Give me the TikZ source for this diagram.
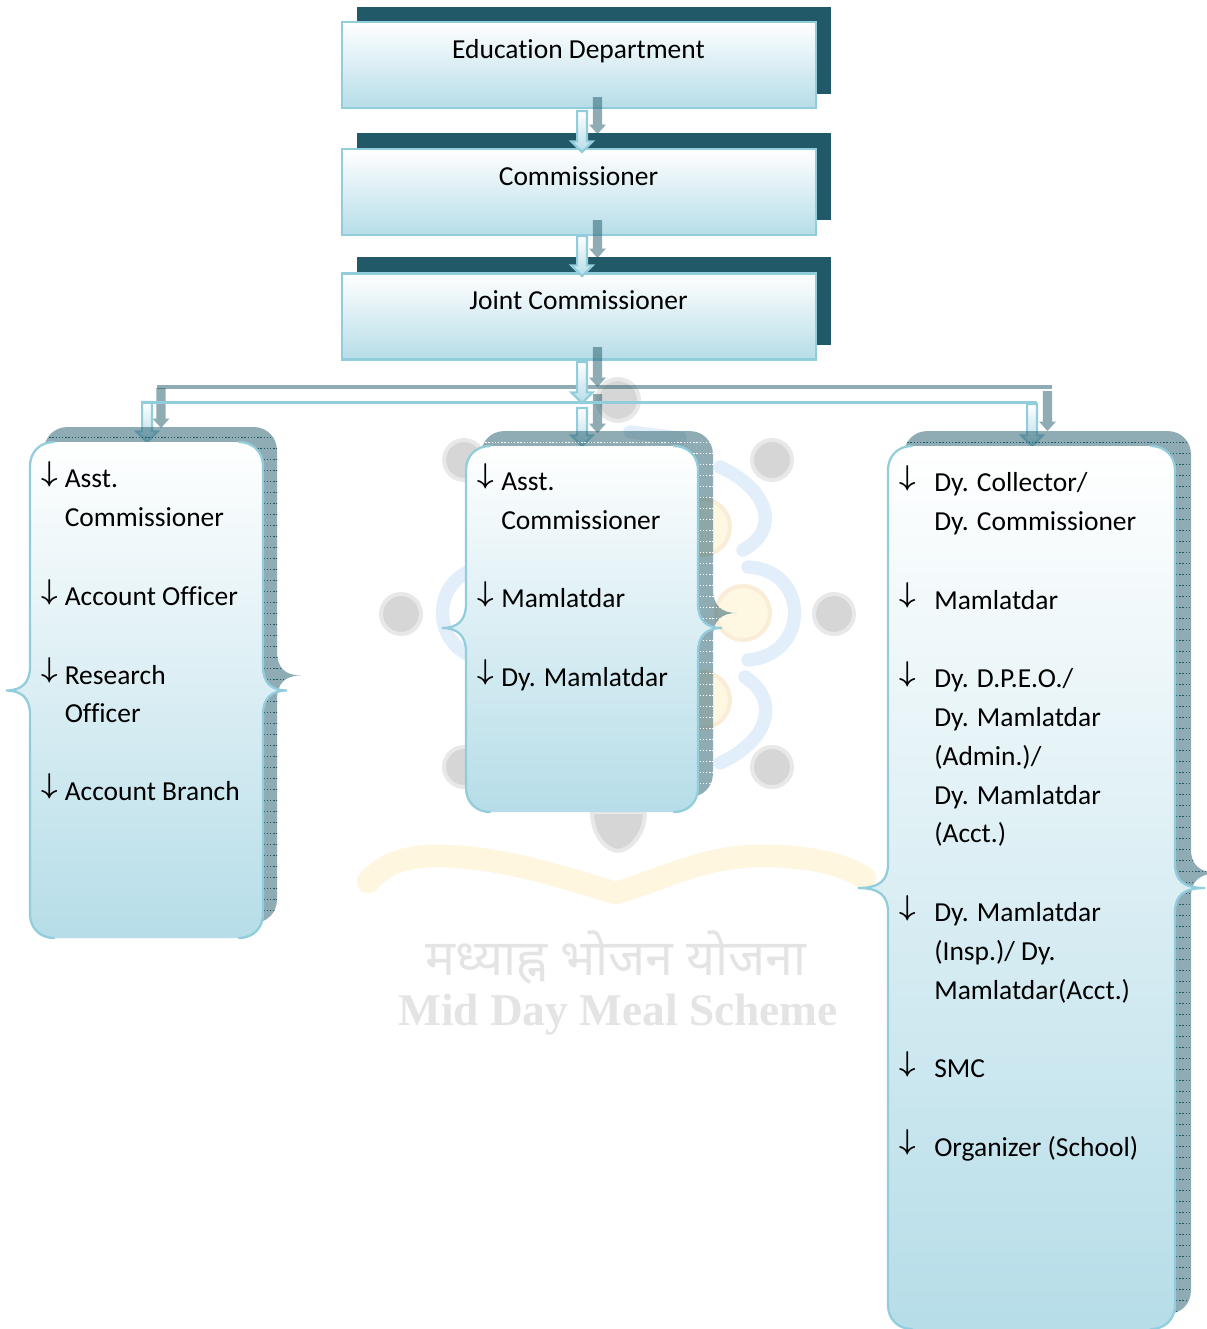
\documentclass[tikz,border=0pt]{standalone}
\usepackage{fontspec}
\usepackage{graphicx}
\setmainfont[Ligatures=NoCommon]{Carlito}
\newfontfamily\wmserif{Liberation Serif}
\newfontfamily\wmhindi[Script=Devanagari]{Noto Sans}
\usetikzlibrary{calc}
\definecolor{boxline}{HTML}{92CDDC}
\definecolor{boxbottom}{HTML}{B6DDE8}
\definecolor{darkteal}{HTML}{215968}
\definecolor{wmgray}{HTML}{D6D6D6}
\definecolor{wmgrayedge}{HTML}{E8E8E8}
\definecolor{wmtext}{HTML}{E4E4E4}
\definecolor{wmblue}{HTML}{E2EEFA}
\definecolor{wmring}{HTML}{FAEDD8}
\definecolor{wmsun}{HTML}{FEF7E2}
\definecolor{wmbook}{HTML}{FEF6DF}
\tikzset{
  x=0.75pt,y=-0.75pt,
  topbox/.style={rectangle,minimum width=355.5pt,minimum height=64.5pt,inner sep=0pt,draw=boxline,line width=1.9pt,top color=white,bottom color=boxbottom,shading angle=0},
  topshadow/.style={fill=darkteal},
  toptext/.style={font=\fontsize{20.6}{24}\selectfont,inner sep=0pt,anchor=base,text=black},
  lab/.style={font=\fontsize{20.6}{24}\selectfont,inner sep=0pt,anchor=base west,text=black,yshift=-0.4pt},
  arr/.style={inner sep=0pt,anchor=south,text=black},
  lightarrow/.style={draw=boxline,line width=1.6pt,top color=white,bottom color=boxbottom},
  darkarrow/.style={fill=darkteal,fill opacity=0.5},
  panelfill/.style={top color=white,bottom color=boxbottom},
  panelline/.style={draw=boxline,line width=1.7pt,line cap=round},
  panelshadow/.style={fill=darkteal,fill opacity=0.5},
  lightline/.style={draw=boxline,line width=1.9pt},
  darkline/.style={draw=darkteal,draw opacity=0.5,line width=2.6pt},
  wmdot/.style={fill=wmgray,draw=wmgrayedge,line width=3pt},
  wmarc/.style={draw=wmblue,line width=10pt,line cap=round},
  wmsunstyle/.style={draw=wmring,fill=wmsun,line width=3pt},
}
% #1 left, #2 right, #3 top, #4 bottom, #5 brace y, #6 brace reach
\newcommand{\panelclosed}[6]{({#1+24},#3) -- ({#2-24},#3)
  .. controls ({#2-10},#3) and (#2,{#3+10}) .. (#2,{#3+24}) -- (#2,{#5-24})
  .. controls (#2,{#5-8}) and ({#2+8},#5) .. ({#2+#6},#5)
  .. controls ({#2+8},#5) and (#2,{#5+8}) .. (#2,{#5+24}) -- (#2,{#4-24})
  .. controls (#2,{#4-10}) and ({#2-10},#4) .. ({#2-24},#4) -- ({#1+24},#4)
  .. controls ({#1+10},#4) and (#1,{#4-10}) .. (#1,{#4-24}) -- (#1,{#5+24})
  .. controls (#1,{#5+8}) and ({#1-8},#5) .. ({#1-#6},#5)
  .. controls ({#1-8},#5) and (#1,{#5-8}) .. (#1,{#5-24}) -- (#1,{#3+24})
  .. controls (#1,{#3+10}) and ({#1+10},#3) .. ({#1+24},#3) -- cycle}
\newcommand{\panelshadowpath}[6]{({#1+24},#3) -- ({#2-24},#3)
  .. controls ({#2-10},#3) and (#2,{#3+10}) .. (#2,{#3+24}) -- (#2,{#5-24})
  .. controls (#2,{#5-8}) and ({#2+8},#5) .. ({#2+#6},#5)
  .. controls ({#2+8},#5) and (#2,{#5+8}) .. (#2,{#5+24}) -- (#2,{#4-24})
  .. controls (#2,{#4-10}) and ({#2-10},#4) .. ({#2-24},#4) -- ({#1+24},#4) -- (#1,{#4-24}) -- (#1,{#3+24})
  .. controls (#1,{#3+10}) and ({#1+10},#3) .. ({#1+24},#3) -- cycle}
\newcommand{\panelstroke}[6]{
  \draw[panelline] ({#2-24},#3)
  .. controls ({#2-10},#3) and (#2,{#3+10}) .. (#2,{#3+24}) -- (#2,{#5-24})
  .. controls (#2,{#5-8}) and ({#2+8},#5) .. ({#2+#6},#5)
  .. controls ({#2+8},#5) and (#2,{#5+8}) .. (#2,{#5+24}) -- (#2,{#4-24})
  .. controls (#2,{#4-10}) and ({#2-10},#4) .. ({#2-24},#4);
  \draw[panelline] ({#1+24},#4)
  .. controls ({#1+10},#4) and (#1,{#4-10}) .. (#1,{#4-24}) -- (#1,{#5+24})
  .. controls (#1,{#5+8}) and ({#1-8},#5) .. ({#1-#6},#5)
  .. controls ({#1-8},#5) and (#1,{#5-8}) .. (#1,{#5-24}) -- (#1,{#3+24})
  .. controls (#1,{#3+10}) and ({#1+10},#3) .. ({#1+24},#3);
}
% full panel: #1..#6 as above, #7 dotted start, #8 dotted style, #9 shadow x offset
\newcommand{\fullpanel}[9]{
  \pgfmathsetmacro{\shL}{#1+#9}
  \pgfmathsetmacro{\shR}{#2+#9}
  \pgfmathsetmacro{\shT}{#3-15}
  \pgfmathsetmacro{\shB}{#4-15}
  \pgfmathsetmacro{\shY}{#5-15}
  \fill[panelshadow] \panelshadowpath{\shL}{\shR}{\shT}{\shB}{\shY}{#6};
  \begin{scope}
    \clip \panelshadowpath{\shL}{\shR}{\shT}{\shB}{\shY}{#6};
    \pgfmathsetmacro{\dotnext}{#7+11}
    \foreach \dy in {#7,\dotnext,...,#4}
      \draw[#8,line width=0.45pt,dash pattern=on 1.1pt off 1.3pt] (#1,\dy) -- ({#2+45},\dy);
  \end{scope}
  \shade[panelfill] \panelclosed{#1}{#2}{#3}{#4}{#5}{#6};
  \panelstroke{#1}{#2}{#3}{#4}{#5}{#6}
}
% vertical block arrow: style, from, to, half shaft, half head, head length (pt)
\newcommand{\blockdown}[6]{
  \path[#1] let \p1=(#2),\p2=(#3) in
    (\x1-#4,\y1) -- (\x1-#4,\y2+#6) -- (\x1-#5,\y2+#6) -- (\x2,\y2)
    -- (\x1+#5,\y2+#6) -- (\x1+#4,\y2+#6) -- (\x1+#4,\y1) -- cycle;
}
\newcommand{\lightdown}[2]{\blockdown{lightarrow}{#1}{#2}{3.7pt}{8pt}{8pt}}
\newcommand{\darkdown}[2]{\blockdown{darkarrow}{#1}{#2}{3.5pt}{6.3pt}{7pt}}
\newcommand{\downglyph}{\scalebox{2.15}{\boldmath$\downarrow$}}
\begin{document}
\begin{tikzpicture}
\useasboundingbox (0,0) rectangle (1207,1329);
\fill[white] (0,0) rectangle (1207,1329);

% --- watermark ---
\draw[draw=wmbook,line width=17pt,line join=round,line cap=round] (368,882) .. controls (385,862) and (410,855) .. (443,856)
  .. controls (510,858) and (570,880) .. (616,893) .. controls (660,880) and (700,858) .. (754,856)
  .. controls (800,855) and (840,862) .. (865,878);
\fill[wmdot] (618,400) circle (21);
\fill[wmdot] (772,460) circle (20);
\fill[wmdot] (834,614) circle (20);
\fill[wmdot] (772,767) circle (20);
\fill[wmdot] (464,460) circle (20);
\fill[wmdot] (401,614) circle (20);
\fill[wmdot] (464,767) circle (20);
\fill[wmdot] (592,812) -- (645,812) .. controls (645,835) and (630,850) .. (618,851) .. controls (606,850) and (592,835) .. (592,812) -- cycle;
\draw[wmarc] (720,467) .. controls (770,490) and (780,530) .. (743,550);
\draw[wmarc] (748,567) .. controls (810,570) and (810,655) .. (748,660);
\draw[wmarc] (720,763) .. controls (770,740) and (780,700) .. (745,677);
\draw[wmarc] (489,567) .. controls (427,570) and (427,655) .. (489,660);
\draw[wmarc] (630,432) -- (680,438);
\draw[wmsunstyle] (743,613) circle (27);
\draw[wmsunstyle] (702,527) circle (28);
\draw[wmsunstyle] (702,700) circle (28);
\node[inner sep=0pt,anchor=base,text=wmtext,font=\wmhindi\bfseries\fontsize{37.5}{40}\selectfont] (wmhi) at (616,975) {मध्याह्न भोजन योजना};
\node[inner sep=0pt,anchor=base,text=wmtext,font=\wmserif\bfseries\fontsize{34}{38}\selectfont] (wmen) at (618,1025) {Mid Day Meal Scheme};

% --- top boxes ---
\fill[topshadow] (357,7) rectangle (831,94);
\fill[topshadow] (357,133) rectangle (831,220);
\fill[topshadow] (357,257) rectangle (831,345);
\node[topbox] (edu) at (579,65) {};
\node[topbox] (comm) at (579,192) {};
\node[topbox] (joint) at (579,316.5) {};
\node[toptext] (edutext) at (578.5,58) {Education Department};
\node[toptext] (commtext) at (578.5,185) {Commissioner};
\node[toptext] (jointtext) at (578.5,309) {Joint Commissioner};

% --- connector end points ---
\coordinate (a1d) at (597.5,97);  \coordinate (a1e) at (597.5,134);
\coordinate (a1l) at (582,111);   \coordinate (a1m) at (582,152);
\coordinate (a2d) at (597.5,220); \coordinate (a2e) at (597.5,258);
\coordinate (a2l) at (582,236);   \coordinate (a2m) at (582,276);
\coordinate (a3d) at (597.5,347); \coordinate (a3e) at (597.5,387);
\coordinate (a3l) at (582,362);   \coordinate (a3m) at (582,403);
\coordinate (cd) at (597.5,394);  \coordinate (ce) at (597.5,433);
\coordinate (cl) at (582,408);    \coordinate (cm) at (582,446);
\coordinate (ld) at (161,388);    \coordinate (le) at (161,428);
\coordinate (ll) at (147,402);    \coordinate (lm) at (147,442);
\coordinate (rd) at (1047.5,391); \coordinate (re) at (1047.5,431);
\coordinate (rl) at (1032,404);   \coordinate (rm) at (1032,446);
\coordinate (hd1) at (157,387);   \coordinate (hd2) at (1052,387);
\coordinate (hl1) at (141,402.5); \coordinate (hl2) at (1037,402.5);

% --- connectors ---
\draw[darkline] (hd1) -- (hd2);
\darkdown{a1d}{a1e}
\lightdown{a1l}{a1m}
\darkdown{a2d}{a2e}
\lightdown{a2l}{a2m}
\darkdown{a3d}{a3e}
\darkdown{cd}{ce}
\darkdown{ld}{le}
\darkdown{rd}{re}
\lightdown{ll}{lm}
\lightdown{cl}{cm}
\lightdown{rl}{rm}
\draw[lightline] (hl1) -- (hl2);
\lightdown{a3l}{a3m}

% --- panels ---
\fullpanel{30}{263}{442}{938}{690.5}{24}{437}{darkteal}{14}
\fullpanel{466}{698}{446}{812}{628}{24}{442}{white}{15}
\fullpanel{888}{1175}{446}{1329}{888}{30}{442}{darkteal}{16}

% --- left panel text ---
\node[arr] (lg1) at (50,487) {\downglyph};
\node[lab] (lt1) at (64.5,487) {Asst.};
\node[lab] (lt2) at (64.5,525.5) {Commissioner};
\node[arr] (lg2) at (50,605) {\downglyph};
\node[lab] (lt3) at (64.5,605) {Account Officer};
\node[arr] (lg3) at (50,683.5) {\downglyph};
\node[lab] (lt4) at (64.5,683.5) {Research};
\node[lab] (lt5) at (64.5,722) {Officer};
\node[arr] (lg4) at (50,799.5) {\downglyph};
\node[lab] (lt6) at (64.5,799.5) {Account Branch};

% --- centre panel text ---
\node[arr] (cg1) at (486,489.5) {\downglyph};
\node[lab] (ct1) at (501,489.5) {Asst.};
\node[lab] (ct2) at (501,528.5) {Commissioner};
\node[arr] (cg2) at (486,607) {\downglyph};
\node[lab] (ct3) at (501,607) {Mamlatdar};
\node[arr] (cg3) at (486,685.5) {\downglyph};
\node[lab] (ct4) at (501,685.5) {Dy. Mamlatdar};

% --- right panel text ---
\node[arr] (rg1) at (908,491) {\downglyph};
\node[lab] (rt1) at (934,491) {Dy. Collector/};
\node[lab] (rt2) at (934,530) {Dy. Commissioner};
\node[arr] (rg2) at (908,608.5) {\downglyph};
\node[lab] (rt3) at (934,608.5) {Mamlatdar};
\node[arr] (rg3) at (908,687) {\downglyph};
\node[lab] (rt4) at (934,687) {Dy. D.P.E.O./};
\node[lab] (rt5) at (934,726) {Dy. Mamlatdar};
\node[lab] (rt6) at (934,765) {(Admin.)/};
\node[lab] (rt7) at (934,803.5) {Dy. Mamlatdar};
\node[lab] (rt8) at (934,842) {(Acct.)};
\node[arr] (rg4) at (908,921) {\downglyph};
\node[lab] (rt9) at (934,921) {Dy. Mamlatdar};
\node[lab] (rt10) at (934,960) {(Insp.)/ Dy.};
\node[lab] (rt11) at (934,998.5) {Mamlatdar(Acct.)};
\node[arr] (rg5) at (908,1077) {\downglyph};
\node[lab] (rt12) at (934,1077) {SMC};
\node[arr] (rg6) at (908,1155.5) {\downglyph};
\node[lab] (rt13) at (934,1155.5) {Organizer (School)};
\end{tikzpicture}
\end{document}
